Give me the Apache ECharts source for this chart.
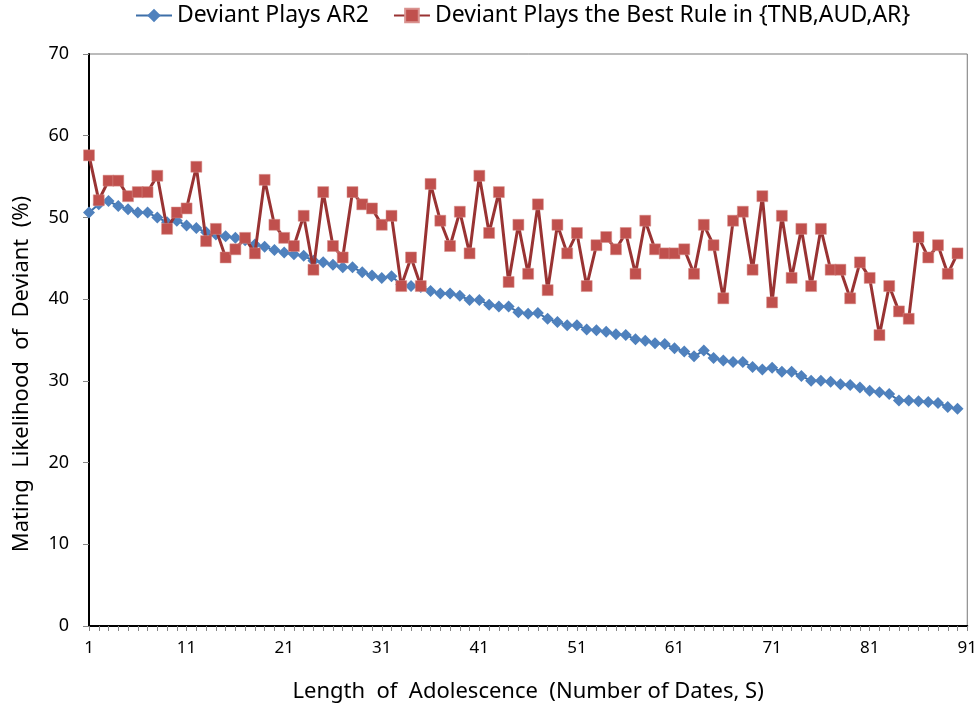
<!DOCTYPE html>
<html>
<head>
<meta charset="utf-8">
<script src="https://cdn.jsdelivr.net/npm/echarts@6/dist/echarts.min.js"></script>
<style>
html,body{margin:0;padding:0;background:#fff;}
#chart{width:980px;height:717px;}
</style>
</head>
<body>
<div id="chart"></div>
<script>
const categories = [1,2,3,4,5,6,7,8,9,10,11,12,13,14,15,16,17,18,19,20,21,22,23,24,25,26,27,28,29,30,
31,32,33,34,35,36,37,38,39,40,41,42,43,44,45,46,47,48,49,50,51,52,53,54,55,56,57,58,59,60,
61,62,63,64,65,66,67,68,69,70,71,72,73,74,75,76,77,78,79,80,81,82,83,84,85,86,87,88,89,90,91];

const seriesNames = ['Deviant Plays AR2', 'Deviant Plays the Best Rule in {TNB,AUD,AR}'];

const ar2Values = [50.6,51.6,52.0,51.4,51.0,50.6,50.6,50.0,49.4,49.6,
49.0,48.7,48.2,47.9,47.7,47.5,47.2,46.7,46.4,46.0,
45.7,45.5,45.3,44.7,44.5,44.2,43.9,43.9,43.3,42.9,
42.6,42.8,41.8,41.6,41.5,41.0,40.7,40.7,40.4,39.9,
39.9,39.3,39.1,39.1,38.4,38.2,38.3,37.6,37.2,36.8,
36.8,36.3,36.2,36.0,35.7,35.6,35.1,34.9,34.6,34.5,
34.0,33.6,33.0,33.7,32.8,32.5,32.3,32.3,31.7,31.4,
31.6,31.1,31.1,30.6,30.0,30.0,29.9,29.6,29.5,29.2,
28.8,28.6,28.4,27.6,27.6,27.5,27.4,27.3,26.8,26.6];

const bestRuleValues = [57.6,52.1,54.5,54.5,52.6,53.1,53.1,55.1,48.6,50.6,
51.1,56.2,47.1,48.6,45.1,46.1,47.5,45.6,54.6,49.1,
47.5,46.5,50.2,43.6,53.1,46.5,45.1,53.1,51.6,51.1,
49.1,50.2,41.6,45.1,41.6,54.1,49.6,46.5,50.7,45.6,
55.1,48.1,53.1,42.1,49.1,43.1,51.6,41.1,49.1,45.6,
48.1,41.6,46.6,47.6,46.1,48.1,43.1,49.6,46.1,45.6,
45.6,46.1,43.1,49.1,46.6,40.1,49.6,50.7,43.6,52.6,
39.6,50.2,42.6,48.6,41.6,48.6,43.6,43.6,40.1,44.5,
42.6,35.6,41.6,38.5,37.6,47.6,45.1,46.6,43.1,45.6];

const yTicks = {min: 0, max: 70, interval: 10};
const xTitle = 'Length  of  Adolescence  (Number of Dates, S)';
const yTitle = 'Mating  Likelihood  of  Deviant  (%)';

const FONT = 'Noto Sans';
const chart = echarts.init(document.getElementById('chart'), null, {renderer: 'canvas'});
chart.setOption({
  animation: false,
  backgroundColor: '#ffffff',
  textStyle: {fontFamily: FONT},
  legend: {
    top: -1,
    left: 130,
    itemWidth: 36,
    itemHeight: 17,
    itemGap: 24,
    textStyle: {fontFamily: FONT, fontSize: 23, color: '#000'},
    data: seriesNames
  },
  grid: {
    left: 89, right: 10, top: 54, bottom: 91,
    show: true, borderColor: '#777', borderWidth: 1, containLabel: false
  },
  xAxis: {
    type: 'category',
    data: categories.map(String),
    boundaryGap: false,
    name: xTitle,
    nameLocation: 'middle',
    nameGap: 55,
    nameTextStyle: {fontFamily: FONT, fontSize: 22, color: '#000'},
    axisLine: {lineStyle: {color: '#000', width: 2}},
    axisTick: {show: true, interval: 0, length: 5, lineStyle: {color: '#868686'}},
    axisLabel: {interval: 9, fontFamily: FONT, fontSize: 17, color: '#000', margin: 14},
    splitLine: {show: false}
  },
  yAxis: {
    type: 'value',
    min: yTicks.min, max: yTicks.max, interval: yTicks.interval,
    name: yTitle,
    nameLocation: 'middle',
    nameGap: 56,
    nameRotate: 90,
    nameTextStyle: {fontFamily: FONT, fontSize: 22, color: '#000', padding: [0, 68, 0, 0]},
    axisLine: {show: true, lineStyle: {color: '#000', width: 2}},
    axisTick: {show: true, length: 6, lineStyle: {color: '#868686'}},
    axisLabel: {fontFamily: FONT, fontSize: 18, color: '#000', margin: 20},
    splitLine: {show: false}
  },
  series: [
    {
      name: seriesNames[0],
      type: 'line',
      data: ar2Values,
      symbol: 'diamond',
      symbolSize: 12,
      showAllSymbol: true,
      lineStyle: {color: '#3d6fa8', width: 2},
      itemStyle: {color: '#4F81BD', borderColor: '#4F81BD', borderWidth: 0},
      z: 2
    },
    {
      name: seriesNames[1],
      type: 'line',
      data: bestRuleValues,
      symbol: 'rect',
      symbolSize: 11,
      showAllSymbol: true,
      lineStyle: {color: '#993333', width: 3},
      itemStyle: {color: '#C0504D', borderColor: '#d9928f', borderWidth: 0.5},
      z: 3
    }
  ]
});
</script>
</body>
</html>
